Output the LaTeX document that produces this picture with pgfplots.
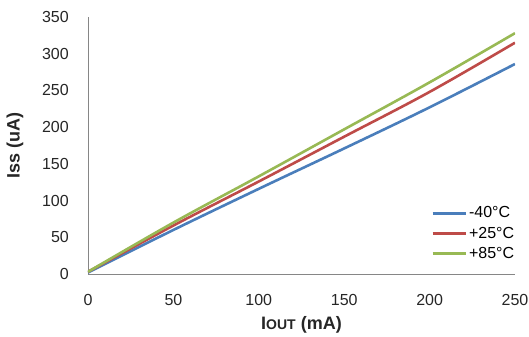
\documentclass[border=0pt]{standalone}
\usepackage{fontspec}
\setmainfont{Liberation Sans}
\usepackage{pgfplots}
\pgfplotsset{compat=1.18}
\definecolor{cblue}{HTML}{4A7EBB}
\definecolor{cred}{HTML}{BE4B48}
\definecolor{cgreen}{HTML}{98B954}
\definecolor{caxis}{HTML}{868686}
\begin{document}
\begin{tikzpicture}
\begin{axis}[
  scale only axis,
  width=427bp, height=257bp,
  xmin=0, xmax=250, ymin=0, ymax=350,
  xtick={0,50,...,250}, ytick={0,50,...,350},
  axis x line*=bottom, axis y line*=left,
  axis line style={caxis, line width=0.8bp, -},
  tick style={draw=none},
  /pgf/number format/assume math mode=true,
  ticklabel style={font=\fontsize{16bp}{18bp}\selectfont, text=black!85},
  yticklabel style={anchor=east, inner sep=0pt, xshift=-19bp},
  xticklabel style={anchor=north, inner sep=0pt, yshift=-20bp},
  xlabel={\textbf{I{\fontsize{14bp}{16bp}\selectfont OUT} (mA)}},
  ylabel={\textbf{Iss (uA)}},
  label style={font=\fontsize{18bp}{20bp}\selectfont, text=black!85},
  xlabel style={at={(axis description cs:0.5,-0.198)}, anchor=center},
  ylabel style={at={(axis description cs:-0.171,0.5)}, anchor=center, rotate=0},
  legend style={draw=none, fill=none, at={(0.803,0.046)}, anchor=south west,
    font=\fontsize{16bp}{18bp}\selectfont, row sep=3.6bp, inner sep=0pt,
    /tikz/every even column/.append style={column sep=0pt}},
  legend cell align=left,
  legend image code/.code={\draw[line width=3bp] (0bp,0bp) -- (33bp,0bp);},
  every axis plot/.append style={line width=2.6bp, smooth, tension=0.6},
]
\coordinate (O) at (rel axis cs:0,0);
\addplot[cblue] coordinates {(0,2) (50,60) (100,116) (150,171) (200,227) (250,286)};
\addlegendentry{-40°C}
\addplot[cred] coordinates {(0,3) (50,66) (100,126) (150,187) (200,248) (250,315)};
\addlegendentry{+25°C}
\addplot[cgreen] coordinates {(0,3) (50,70) (100,133) (150,197) (200,261) (250,328)};
\addlegendentry{+85°C}
\end{axis}
\pgfresetboundingbox
\path (O) ++(-88bp,-63bp) rectangle ++(529bp,337bp);
\end{tikzpicture}
\end{document}
